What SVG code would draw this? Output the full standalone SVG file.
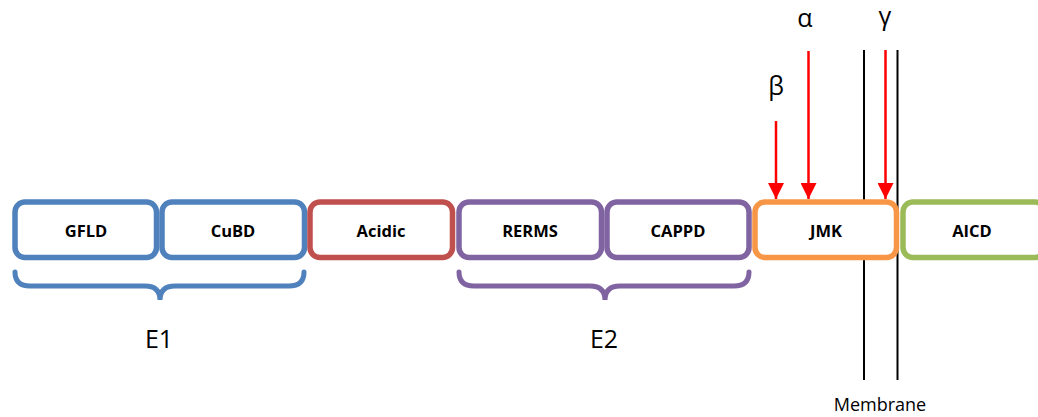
<svg xmlns="http://www.w3.org/2000/svg" width="1038" height="417" viewBox="0 0 1038 417">
  <style>
    .box { fill: #ffffff; stroke-width: 5.5; }
    .lbl { font-family: "Open Sans", "Liberation Sans", sans-serif; font-weight: bold; font-size: 16.5px; text-anchor: middle; dominant-baseline: central; fill: #000000; }
    .big { font-family: "Open Sans", "Liberation Sans", sans-serif; font-size: 25px; text-anchor: middle; fill: #000000; }
    .brace { fill: none; stroke-width: 5; stroke-linecap: round; }
    .mem { stroke: #000000; stroke-width: 2; }
    .cut { stroke: #ff0000; stroke-width: 2.5; fill: none; }
  </style>
  <defs>
    <marker id="redHead" markerUnits="userSpaceOnUse" markerWidth="16" markerHeight="16" viewBox="0 0 16 16" refX="16" refY="8" orient="auto">
      <path d="M0,0 L16,8 L0,16 Z" fill="#ff0000"/>
    </marker>
  </defs>

  <!-- membrane bilayer -->
  <g id="membrane">
    <line class="mem" x1="864" y1="50" x2="864" y2="380"/>
    <line class="mem" x1="897.5" y1="50" x2="897.5" y2="380"/>
    <text x="880" y="411" font-family="Open Sans, Liberation Sans, sans-serif" font-size="18" text-anchor="middle">Membrane</text>
  </g>

  <!-- domains -->
  <g id="gfld">
    <rect class="box" x="15" y="202" width="141.5" height="55.5" rx="10" stroke="#4F81BD"/>
    <text class="lbl" x="86" y="230">GFLD</text>
  </g>
  <g id="cubd">
    <rect class="box" x="162" y="202" width="142.5" height="55.5" rx="10" stroke="#4F81BD"/>
    <text class="lbl" x="233" y="230">CuBD</text>
  </g>
  <g id="acidic">
    <rect class="box" x="310" y="202" width="142.5" height="55.5" rx="10" stroke="#C0504D"/>
    <text class="lbl" x="381" y="230">Acidic</text>
  </g>
  <g id="rerms">
    <rect class="box" x="459" y="202" width="142.5" height="55.5" rx="10" stroke="#8064A2"/>
    <text class="lbl" x="530" y="230">RERMS</text>
  </g>
  <g id="cappd">
    <rect class="box" x="607" y="202" width="142" height="55.5" rx="10" stroke="#8064A2"/>
    <text class="lbl" x="678" y="230">CAPPD</text>
  </g>
  <g id="jmk">
    <rect class="box" x="755" y="202" width="141.5" height="55.5" rx="10" stroke="#F79646"/>
    <text class="lbl" x="826" y="230">JMK</text>
  </g>
  <g id="aicd">
    <rect class="box" x="903" y="202" width="142" height="55.5" rx="10" stroke="#9BBB59"/>
    <text class="lbl" x="972" y="230">AICD</text>
  </g>

  <!-- extracellular region braces -->
  <g id="e1">
    <path class="brace" stroke="#4F81BD" d="M15,272 Q15,286 30,286 L145,286 Q160,286 160,300 Q160,286 175,286 L289,286 Q304,286 304,272"/>
    <text class="big" x="159" y="348">E1</text>
  </g>
  <g id="e2">
    <path class="brace" stroke="#8064A2" d="M459,272 Q459,286 474,286 L590,286 Q605,286 605,300 Q605,286 620,286 L734,286 Q749,286 749,272"/>
    <text class="big" x="604" y="348">E2</text>
  </g>

  <!-- secretase cleavage sites -->
  <g id="connectors">
    <line class="cut" x1="776" y1="121" x2="776" y2="199" marker-end="url(#redHead)"/>
    <line class="cut" x1="808.5" y1="51" x2="808.5" y2="199" marker-end="url(#redHead)"/>
    <line class="cut" x1="885.5" y1="50" x2="885.5" y2="199" marker-end="url(#redHead)"/>
  </g>
  <g id="site-labels">
    <text class="big" x="776" y="95">β</text>
    <text class="big" x="805" y="27">α</text>
    <text class="big" x="885" y="25">γ</text>
  </g>
</svg>
